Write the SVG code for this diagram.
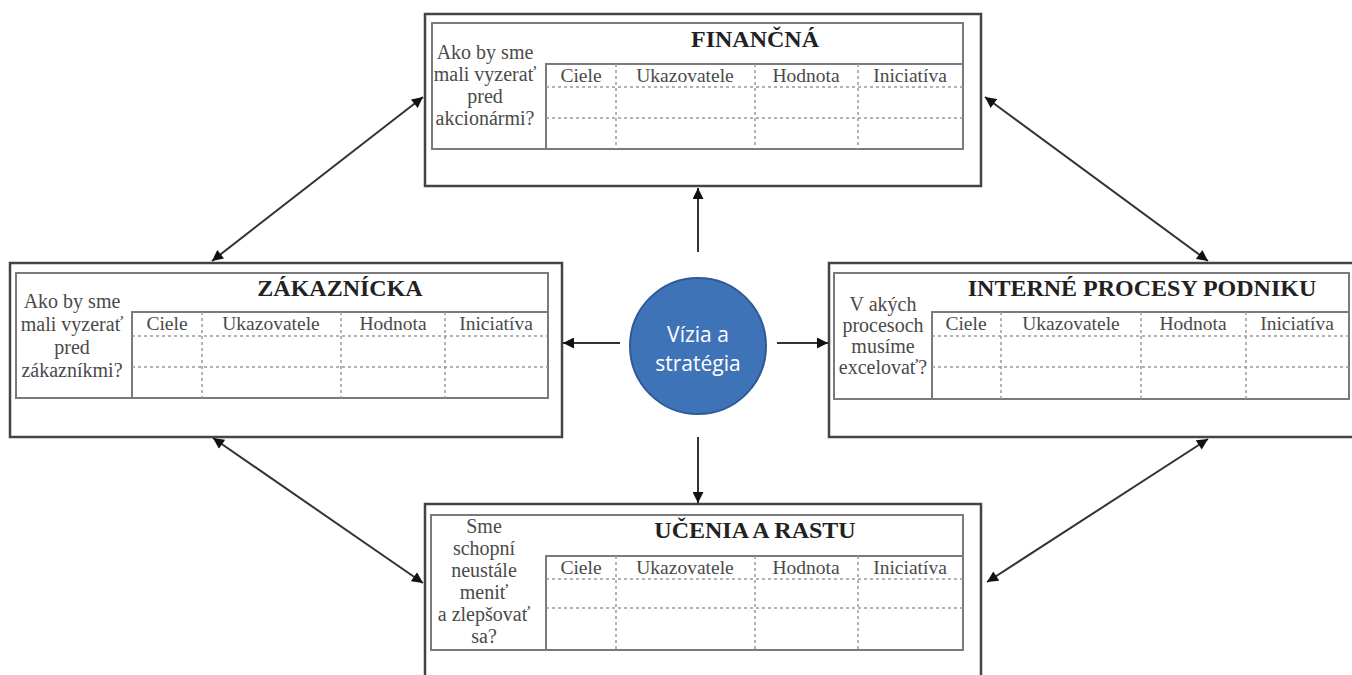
<svg xmlns="http://www.w3.org/2000/svg" width="1352" height="675" viewBox="0 0 1352 675">
<style>
.outer{fill:#fff;stroke:#444;stroke-width:2.5}
.inner{fill:none;stroke:#7a7a7a;stroke-width:2}
.solid{stroke:#7a7a7a;stroke-width:2;fill:none}
.dash{stroke:#9a9a9a;stroke-width:1.5;stroke-dasharray:3 3;fill:none}
.q{font-family:"Liberation Serif","Times New Roman",serif;font-size:20px;fill:#4a4a4a;text-anchor:middle}
.h{font-family:"Liberation Serif","Times New Roman",serif;font-size:19.5px;fill:#4a4a4a;text-anchor:middle}
.t{font-family:"Liberation Serif","Times New Roman",serif;font-size:24px;font-weight:bold;fill:#222;text-anchor:middle}
.c{font-family:"Open Sans","Noto Sans",sans-serif;font-size:21px;fill:#fff;text-anchor:middle}
.conn{stroke:#333;stroke-width:2;fill:none}
</style>
<defs>
<marker id="ah" viewBox="0 0 10 10" refX="10" refY="5" markerWidth="12" markerHeight="11" markerUnits="userSpaceOnUse" orient="auto-start-reverse">
<path d="M0,0 L10,5 L0,10 z" fill="#111"/>
</marker>
</defs>
<rect width="1352" height="675" fill="#fff"/>

<g id="financna">
<rect class="outer" x="425" y="14" width="556" height="172"/>
<rect class="inner" x="432" y="23" width="531" height="126"/>
<path class="solid" d="M546,149 V64 H963"/>
<path class="dash" d="M546,87 H963 M546,118 H963 M616,64 V149 M755,64 V149 M858,64 V149"/>
<text class="t" x="755" y="47">FINANČNÁ</text>
<text class="q" x="485" y="59">Ako by sme</text>
<text class="q" x="485" y="81">mali vyzerať</text>
<text class="q" x="485" y="103">pred</text>
<text class="q" x="485" y="125">akcionármi?</text>
<text class="h" x="581" y="82">Ciele</text>
<text class="h" x="685" y="82">Ukazovatele</text>
<text class="h" x="806" y="82">Hodnota</text>
<text class="h" x="910" y="82">Iniciatíva</text>
</g>

<g id="zakaznicka">
<rect class="outer" x="10" y="263" width="552" height="174"/>
<rect class="inner" x="16" y="273" width="532" height="125"/>
<path class="solid" d="M132,398 V312 H548"/>
<path class="dash" d="M132,336 H548 M132,367 H548 M202,312 V398 M341,312 V398 M445,312 V398"/>
<text class="t" x="340" y="296">ZÁKAZNÍCKA</text>
<text class="q" x="72" y="308">Ako by sme</text>
<text class="q" x="72" y="331">mali vyzerať</text>
<text class="q" x="72" y="354">pred</text>
<text class="q" x="72" y="377">zákazníkmi?</text>
<text class="h" x="167" y="330">Ciele</text>
<text class="h" x="271" y="330">Ukazovatele</text>
<text class="h" x="393" y="330">Hodnota</text>
<text class="h" x="496" y="330">Iniciatíva</text>
</g>

<g id="interne">
<rect class="outer" x="829" y="263" width="540" height="174"/>
<rect class="inner" x="834" y="273" width="515" height="126"/>
<path class="solid" d="M932,399 V312 H1349"/>
<path class="dash" d="M932,336 H1349 M932,367 H1349 M1001,312 V399 M1141,312 V399 M1246,312 V399"/>
<text class="t" x="1142" y="296">INTERNÉ PROCESY PODNIKU</text>
<text class="q" x="883" y="311">V akých</text>
<text class="q" x="883" y="332">procesoch</text>
<text class="q" x="883" y="353">musíme</text>
<text class="q" x="883" y="374">excelovať?</text>
<text class="h" x="966" y="330">Ciele</text>
<text class="h" x="1071" y="330">Ukazovatele</text>
<text class="h" x="1193" y="330">Hodnota</text>
<text class="h" x="1297" y="330">Iniciatíva</text>
</g>

<g id="ucenia">
<rect class="outer" x="425" y="504" width="556" height="200"/>
<rect class="inner" x="431" y="515" width="532" height="135"/>
<path class="solid" d="M546,650 V556 H963"/>
<path class="dash" d="M546,579 H963 M546,608 H963 M616,556 V650 M755,556 V650 M858,556 V650"/>
<text class="t" x="755" y="538">UČENIA A RASTU</text>
<text class="q" x="484" y="533">Sme</text>
<text class="q" x="484" y="555">schopní</text>
<text class="q" x="484" y="577">neustále</text>
<text class="q" x="484" y="599">meniť</text>
<text class="q" x="484" y="621">a zlepšovať</text>
<text class="q" x="484" y="643">sa?</text>
<text class="h" x="581" y="574">Ciele</text>
<text class="h" x="685" y="574">Ukazovatele</text>
<text class="h" x="806" y="574">Hodnota</text>
<text class="h" x="910" y="574">Iniciatíva</text>
</g>

<g id="vizia">
<circle cx="698" cy="346" r="68" fill="#3f73b8" stroke="#2d5b98" stroke-width="2"/>
<text class="c" x="698" y="342">Vízia a</text>
<text class="c" x="698" y="371">stratégia</text>
</g>

<g id="connectors">
<line class="conn" x1="698" y1="252" x2="698" y2="188" marker-end="url(#ah)"/>
<line class="conn" x1="698" y1="437" x2="698" y2="503" marker-end="url(#ah)"/>
<line class="conn" x1="620" y1="343" x2="563" y2="343" marker-end="url(#ah)"/>
<line class="conn" x1="777" y1="343" x2="828" y2="343" marker-end="url(#ah)"/>
<line class="conn" x1="212" y1="261" x2="423" y2="97" marker-start="url(#ah)" marker-end="url(#ah)"/>
<line class="conn" x1="985" y1="97" x2="1208" y2="261" marker-start="url(#ah)" marker-end="url(#ah)"/>
<line class="conn" x1="213" y1="438" x2="423" y2="583" marker-start="url(#ah)" marker-end="url(#ah)"/>
<line class="conn" x1="1208" y1="439" x2="987" y2="582" marker-start="url(#ah)" marker-end="url(#ah)"/>
</g>
</svg>
